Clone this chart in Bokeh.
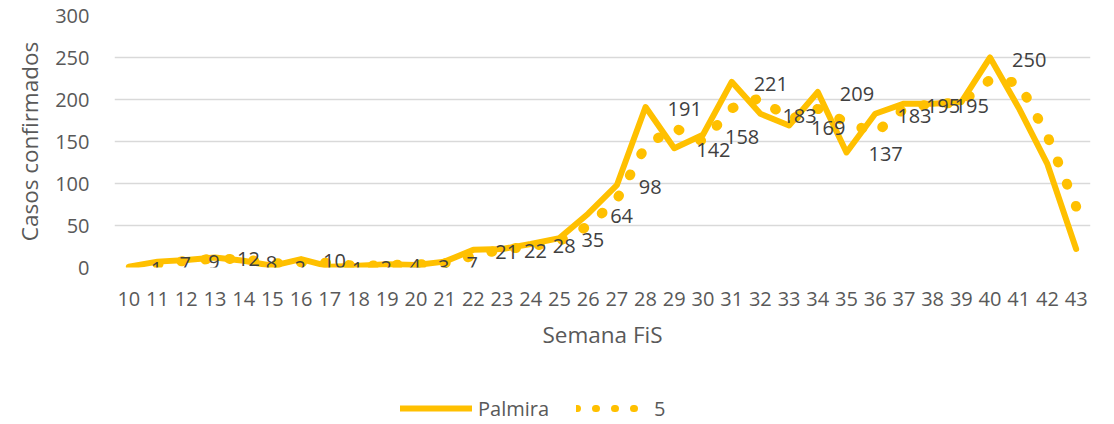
from bokeh.plotting import figure
from bokeh.layouts import column
from bokeh.models import Range1d, FixedTicker, Legend, LegendItem, LabelSet, ColumnDataSource
from bokeh.core.properties import value
from bokeh.embed import file_html
from bokeh.resources import INLINE

# ---- data ----
semanas = [10, 11, 12, 13, 14, 15, 16, 17, 18, 19, 20, 21, 22, 23, 24, 25, 26,
           27, 28, 29, 30, 31, 32, 33, 34, 35, 36, 37, 38, 39, 40, 41, 42, 43]
casos_palmira = [1, 7, 9, 12, 8, 2, 10, 1, 2, 4, 3, 7, 21, 22, 28, 35, 64,
                 98, 191, 142, 158, 221, 183, 169, 209, 137, 183, 195, 195, 197, 250, 190, 123, 22]
etiqueta_visible = [True] * 29 + [False, True, False, False, False]

semanas_tendencia = [11, 12, 13, 14, 15, 16, 17, 18, 19, 20, 21, 22, 23, 24, 25, 26,
                     27, 28, 29, 30, 31, 32, 33, 34, 35, 36, 37, 38, 39, 40, 41, 42, 43]
tendencia_5 = [4, 8, 10.5, 10, 5, 6, 5.5, 1.5, 3, 3.5, 5, 14, 21.5, 25, 31.5, 49.5,
               81, 144.5, 166.5, 150, 189.5, 202, 176, 189, 173, 160, 189, 195, 196, 223.5, 220, 156.5, 72.5]

y_ticks = [0, 50, 100, 150, 200, 250, 300]
serie_nombre = "Palmira"
tendencia_nombre = "5"
titulo_x = "Semana FiS"
titulo_y = "Casos confirmados"

ORO = "#FFC000"
GRIS_TEXTO = "#595959"
FUENTE = "Open Sans"

p = figure(width=1114, height=380,
           x_range=Range1d(9.5, 43.5), y_range=Range1d(0, 300),
           output_backend="svg", toolbar_location=None,
           min_border_left=114, min_border_right=24,
           min_border_top=15, min_border_bottom=113)
p.outline_line_color = None
p.background_fill_color = "white"
p.border_fill_color = "white"

p.xgrid.visible = False
p.ygrid.ticker = FixedTicker(ticks=y_ticks)
p.ygrid.grid_line_color = "#D9D9D9"
p.ygrid.grid_line_width = 1.3

p.xaxis.ticker = FixedTicker(ticks=semanas)
p.yaxis.ticker = FixedTicker(ticks=y_ticks)
for ax in (p.xaxis[0], p.yaxis[0]):
    ax.axis_line_color = None
    ax.major_tick_line_color = None
    ax.minor_tick_line_color = None
    ax.major_tick_out = 0
    ax.major_tick_in = 0
    ax.minor_tick_out = 0
    ax.major_label_text_font = FUENTE
    ax.major_label_text_font_size = "20px"
    ax.major_label_text_color = GRIS_TEXTO
    ax.axis_label_text_font = FUENTE
    ax.axis_label_text_font_size = "22.5px"
    ax.axis_label_text_color = GRIS_TEXTO
    ax.axis_label_text_font_style = "normal"

p.xaxis.axis_label = titulo_x
p.yaxis.axis_label = titulo_y
p.xaxis.major_label_standoff = 24
p.xaxis.axis_label_standoff = 10
p.yaxis.major_label_standoff = 25
p.yaxis.axis_label_standoff = 7

# series
p.line(semanas, casos_palmira, line_color=ORO, line_width=6,
       line_join="round", line_cap="round")
p.line(semanas_tendencia, tendencia_5, line_color=ORO, line_width=10,
       line_dash="1 23", line_cap="round")

# data labels
src = ColumnDataSource(dict(
    x=[s for s, v in zip(semanas, etiqueta_visible) if v],
    y=[c for c, v in zip(casos_palmira, etiqueta_visible) if v],
    t=[str(c) for c, v in zip(casos_palmira, etiqueta_visible) if v],
))
labels = LabelSet(x="x", y="y", text="t", source=src, x_offset=22, y_offset=-2,
                  text_font=value(FUENTE), text_font_size="20px",
                  text_color="#404040", text_align="left", text_baseline="middle")
p.add_layout(labels)

# ---- legend strip (separate figure below the chart) ----
p2 = figure(width=1114, height=44, x_range=Range1d(0, 1), y_range=Range1d(0, 1),
            output_backend="svg", toolbar_location=None,
            x_axis_location=None, y_axis_location=None,
            min_border_left=0, min_border_right=0, min_border_top=0, min_border_bottom=0)
p2.outline_line_color = None
p2.grid.visible = False
p2.background_fill_color = "white"
p2.border_fill_color = "white"

# legend proxies placed outside the visible range of the strip
leg_linea = p2.line(x=[-2, -1], y=[-2, -1], line_color=ORO, line_width=6, line_cap="round")
leg_puntos = p2.line(x=[-2, -1], y=[-2, -1], line_color=ORO, line_width=7,
                     line_dash="1 18", line_cap="round")

legend = Legend(items=[LegendItem(label=serie_nombre, renderers=[leg_linea]),
                       LegendItem(label=tendencia_nombre, renderers=[leg_puntos])],
                orientation="horizontal", location=(286, 2),
                glyph_width=72, glyph_height=28, label_height=28,
                label_standoff=6, spacing=27, padding=0, margin=0,
                border_line_color=None, background_fill_alpha=0,
                label_text_font=FUENTE, label_text_font_size="20px",
                label_text_color=GRIS_TEXTO)
p2.add_layout(legend)

open("out.html", "w").write(file_html(column(p, p2, spacing=0), INLINE))
